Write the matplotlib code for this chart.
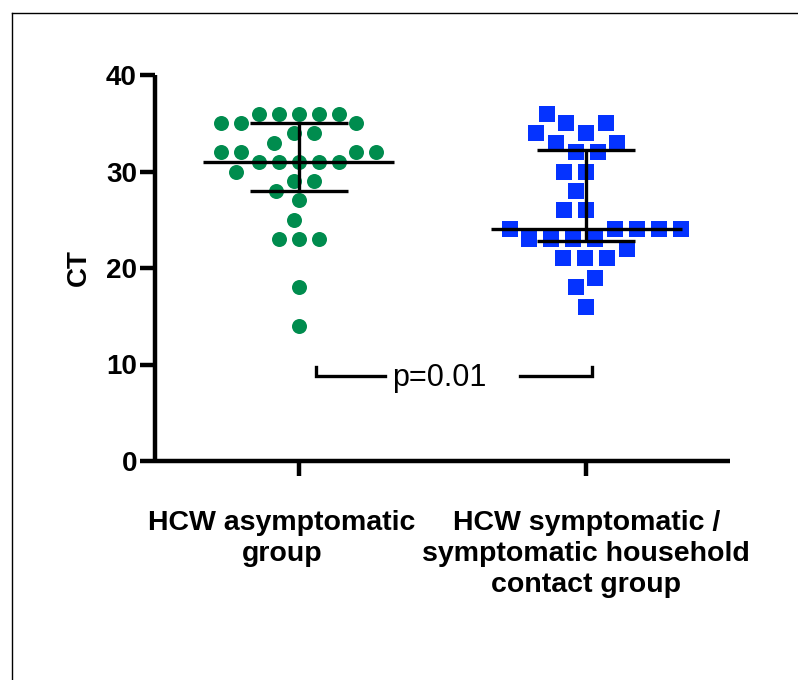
import numpy as np
import matplotlib
matplotlib.use("Agg")
import matplotlib.pyplot as plt
from matplotlib.lines import Line2D
from matplotlib.transforms import ScaledTranslation

plt.rcParams['font.family'] = ['Liberation Sans', 'DejaVu Sans']

# CT values
hcw_asym = [36, 36, 36, 36, 36, 35, 35, 35, 34, 34, 33, 32, 32, 32, 32, 31, 31, 31,
            31, 31, 30, 29, 29, 28, 27, 25, 23, 23, 23, 18, 14]
hcw_sym = [36, 35, 35, 34, 34, 33, 33, 32, 32, 30, 30, 28, 26, 26, 24, 24, 24, 24,
           24, 23, 23, 23, 23, 22, 21, 21, 21, 19, 18, 16]

group_labels = ['HCW asymptomatic\ngroup',
                'HCW symptomatic /\nsymptomatic household\ncontact group']
y_ticks = [0, 10, 20, 30, 40]
p_text = 'p=0.01'

green = '#008C4E'
blue = '#0533FF'

W, H = 798, 680
fig = plt.figure(figsize=(W / 100, H / 100), dpi=100)
ax = fig.add_axes([155 / W, 1 - 461 / H, (730 - 155) / W, (461 - 75) / H])
ax.set_xlim(0.5, 2.5)
ax.set_ylim(0, 40)

# frame around the figure (cut off at right and bottom)
fig.add_artist(Line2D([12 / W, 1], [1 - 12.5 / H, 1 - 12.5 / H], transform=fig.transFigure,
                      color='black', lw=1.0))
fig.add_artist(Line2D([12 / W, 12 / W], [0, 1 - 12.5 / H], transform=fig.transFigure,
                      color='black', lw=1.0))


def swarm(values, d=20.0, by_count=True):
    # column scatter layout in pixels: every point as close to the centre as
    # it can go without coming nearer than d to one already placed
    values = np.asarray(values, dtype=float)
    ys = ax.transData.transform(np.column_stack([np.ones(len(values)), values]))[:, 1]
    if by_count:
        uniq, counts = np.unique(values, return_counts=True)
        cnt = dict(zip(uniq, counts))
        order = sorted(range(len(values)), key=lambda i: (-cnt[values[i]], -values[i]))
    else:
        order = np.argsort(ys, kind='stable')
    xs = np.zeros(len(ys))
    placed = []
    for i in order:
        y = ys[i]
        near = [(px, py) for px, py in placed if abs(py - y) < d]
        cands = [0.0]
        for px, py in near:
            dx = np.sqrt(d * d - (py - y) ** 2)
            cands += [px - dx, px + dx]
        cands.sort(key=abs)
        for c in cands:
            if all((c - px) ** 2 + (y - py) ** 2 >= d * d - 1e-6 for px, py in near):
                break
        xs[i] = c
        placed.append((c, y))
    unit = ax.transData.transform((1, 0))[0] - ax.transData.transform((0, 0))[0]
    return xs / unit


groups = [(hcw_asym, 'o', 10.8, green, 20.0, True),
          (hcw_sym, 's', 11.3, blue, 22.0, False)]
for pos, (vals, mk, ms, col, dist, by_count) in enumerate(groups, start=1):
    vals = np.array(vals, dtype=float)
    off = swarm(vals, dist, by_count)
    ax.plot(pos + off, vals, linestyle='none', marker=mk, markersize=ms,
            color=col, markeredgewidth=0, zorder=2)
    med = np.median(vals)
    q1, q3 = np.percentile(vals, [25, 75], method='weibull')
    ax.plot([pos - 0.333, pos + 0.333], [med, med], color='black', lw=2.4, zorder=3,
            solid_capstyle='butt')
    for q in (q1, q3):
        ax.plot([pos - 0.17, pos + 0.17], [q, q], color='black', lw=2.4, zorder=3,
                solid_capstyle='butt')
    ax.plot([pos, pos], [q1, q3], color='black', lw=2.4, zorder=3, solid_capstyle='butt')

# significance bracket
bar_y, bar_top = 8.8, 9.7
ax.plot([1.06, 1.06, 1.30], [bar_top, bar_y, bar_y], color='black', lw=2.4,
        solid_joinstyle='miter')
ax.plot([1.77, 2.02, 2.02], [bar_y, bar_y, bar_top], color='black', lw=2.4,
        solid_joinstyle='miter')
ax.text(1.49, 8.6, p_text, ha='center', va='center', fontsize=22)

for s in ('top', 'right'):
    ax.spines[s].set_visible(False)
for s in ('left', 'bottom'):
    ax.spines[s].set_linewidth(3.2)
    ax.spines[s].set_capstyle('butt')

ax.set_yticks(y_ticks)
ax.set_xticks([1, 2])
ax.set_xticklabels(group_labels, fontsize=20.5, fontweight='bold', linespacing=1.27)
ax.set_yticklabels([str(t) for t in y_ticks], fontsize=20, fontweight='bold')
ax.tick_params(axis='both', direction='out', length=11, width=3.2, color='black')
ax.tick_params(axis='x', pad=24)
ax.tick_params(axis='y', pad=2)
ax.set_ylabel('CT', fontsize=20, fontweight='bold', labelpad=10)

# first group label sits a little left of its tick in the original
lab = ax.get_xticklabels()[0]
lab.set_transform(lab.get_transform() + ScaledTranslation(-0.17, 0, fig.dpi_scale_trans))

fig.savefig('out.png', dpi=100)
